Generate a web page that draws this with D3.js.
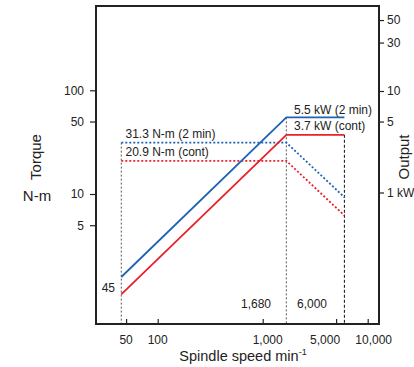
<!DOCTYPE html>
<html><head><meta charset="utf-8">
<script src="https://cdn.jsdelivr.net/npm/d3@7"></script>
<style>
html,body{margin:0;padding:0;background:#fff;overflow:hidden;}
text{font-family:"Liberation Sans",Arial,Helvetica,sans-serif;fill:#222;}
</style></head>
<body>
<svg id="c" width="414" height="367"></svg>
<script>
// Data
const speeds = [45, 1680, 6000];
const power2min = [0.147, 5.5, 5.5];    // kW (solid blue)
const powerCont = [0.099, 3.7, 3.7];    // kW (solid red)
const torque2min = [31.3, 31.3, 9.3];   // N-m (dotted blue)
const torqueCont = [20.9, 20.9, 6.2];   // N-m (dotted red)
const xTicks = [50, 100, 1000, 5000, 10000];
const xTickLabels = ["50", "100", "1,000", "5,000", "10,000"];
const torqueTicks = [5, 10, 50, 100];
const powerTicks = [1, 5, 10, 30, 50];
const powerTickLabels = ["1 kW", "5", "10", "30", "50"];

// label nudges (layout only)
const xLabelDx = [0, 0, 5, -11, 6];

const blue = "#1f63b3", red = "#e8212b";
const L = 96, R = 379, T = 6, B = 324;

const svg = d3.select("#c");
const x = d3.scaleLog().domain([100, 1000]).range([157.7, 262.7]);
const yT = d3.scaleLog().domain([10, 100]).range([194, 90.3]);
const yP = d3.scaleLog().domain([1, 10]).range([192.5, 91]);

// reference lines
const g = svg.append("g");
g.append("line").attr("x1", x(speeds[0])).attr("x2", x(speeds[0]))
  .attr("y1", yT(torque2min[0])).attr("y2", B)
  .attr("stroke", "#555").attr("stroke-width", 1).attr("stroke-dasharray", "2,2");
g.append("line").attr("x1", x(speeds[1])).attr("x2", x(speeds[1]))
  .attr("y1", yP(power2min[1])).attr("y2", B)
  .attr("stroke", "#555").attr("stroke-width", 1).attr("stroke-dasharray", "2,2");
g.append("line").attr("x1", x(speeds[2])).attr("x2", x(speeds[2]))
  .attr("y1", yP(powerCont[2])).attr("y2", B)
  .attr("stroke", "#111").attr("stroke-width", 1).attr("stroke-dasharray", "3,2");

// torque dotted
const lineT = d3.line().x((d,i)=>x(speeds[i])).y(d=>yT(d));
g.append("path").attr("d", lineT(torque2min)).attr("fill","none")
  .attr("stroke", blue).attr("stroke-width", 1.8).attr("stroke-dasharray", "2,2");
g.append("path").attr("d", lineT(torqueCont)).attr("fill","none")
  .attr("stroke", red).attr("stroke-width", 1.8).attr("stroke-dasharray", "2,2");

// power solid
const lineP = d3.line().x((d,i)=>x(speeds[i])).y(d=>yP(d));
g.append("path").attr("d", lineP(power2min)).attr("fill","none")
  .attr("stroke", blue).attr("stroke-width", 1.8);
g.append("path").attr("d", lineP(powerCont)).attr("fill","none")
  .attr("stroke", red).attr("stroke-width", 1.8);

// frame
svg.append("rect").attr("x", L).attr("y", T).attr("width", R-L).attr("height", B-T)
  .attr("fill","none").attr("stroke","#222").attr("stroke-width",2);

// axes
const xAxis = d3.axisTop(x).tickValues(xTicks).tickSize(5).tickFormat("");
const gx = svg.append("g").attr("transform", `translate(0,${B})`).call(xAxis);
gx.select(".domain").remove();
gx.selectAll("line").attr("stroke","#222").attr("stroke-width",1.2);
svg.selectAll(".xl").data(xTicks).enter().append("text")
  .attr("x", (d,i)=>x(d) + xLabelDx[i]).attr("y", 344).attr("text-anchor","middle")
  .attr("font-size", 12).text((d,i)=>xTickLabels[i]);

const yAxisL = d3.axisLeft(yT).tickValues(torqueTicks).tickSize(6).tickFormat(d=>d);
const gl = svg.append("g").attr("transform", `translate(${L},0)`).call(yAxisL);
gl.select(".domain").remove();
gl.selectAll("line").attr("stroke","#222").attr("stroke-width",1.2);
gl.selectAll("text").attr("font-size",12).attr("x",-12).attr("fill","#222")
  .attr("font-family",'"Liberation Sans",Arial,sans-serif');

const yAxisR = d3.axisRight(yP).tickValues(powerTicks).tickSize(5)
  .tickFormat((d,i)=>powerTickLabels[i]);
const gr = svg.append("g").attr("transform", `translate(${R},0)`).call(yAxisR);
gr.select(".domain").remove();
gr.selectAll("line").attr("stroke","#222").attr("stroke-width",1.2);
gr.selectAll("text").attr("font-size",12).attr("x",8).attr("fill","#222")
  .attr("font-family",'"Liberation Sans",Arial,sans-serif');

// axis titles
svg.append("text").attr("transform","translate(41,157) rotate(-90)")
  .attr("text-anchor","middle").attr("font-size",15).text("Torque");
svg.append("text").attr("x",37).attr("y",201).attr("text-anchor","middle")
  .attr("font-size",15).text("N-m");
svg.append("text").attr("transform","translate(409,157) rotate(-90)")
  .attr("text-anchor","middle").attr("font-size",15).text("Output");
const xt = svg.append("text").attr("x",243).attr("y",361).attr("text-anchor","middle")
  .attr("font-size",14.5);
xt.append("tspan").text("Spindle speed min");
xt.append("tspan").attr("font-size",9).attr("dy",-6).text("-1");

// annotations
const ann = [
  {t:"31.3 N-m (2 min)", x:125.5, y:138, a:"start"},
  {t:"20.9 N-m (cont)", x:125.5, y:155.5, a:"start"},
  {t:"5.5 kW (2 min)", x:294, y:114, a:"start"},
  {t:"3.7 kW (cont)", x:294, y:129.5, a:"start"},
  {t:"45", x:115, y:292, a:"end"},
  {t:"1,680", x:271, y:308, a:"end"},
  {t:"6,000", x:297, y:308, a:"start"}
];
svg.selectAll(".ann").data(ann).enter().append("text")
  .attr("x",d=>d.x).attr("y",d=>d.y).attr("text-anchor",d=>d.a)
  .attr("font-size",12).text(d=>d.t);
</script>
</body></html>
